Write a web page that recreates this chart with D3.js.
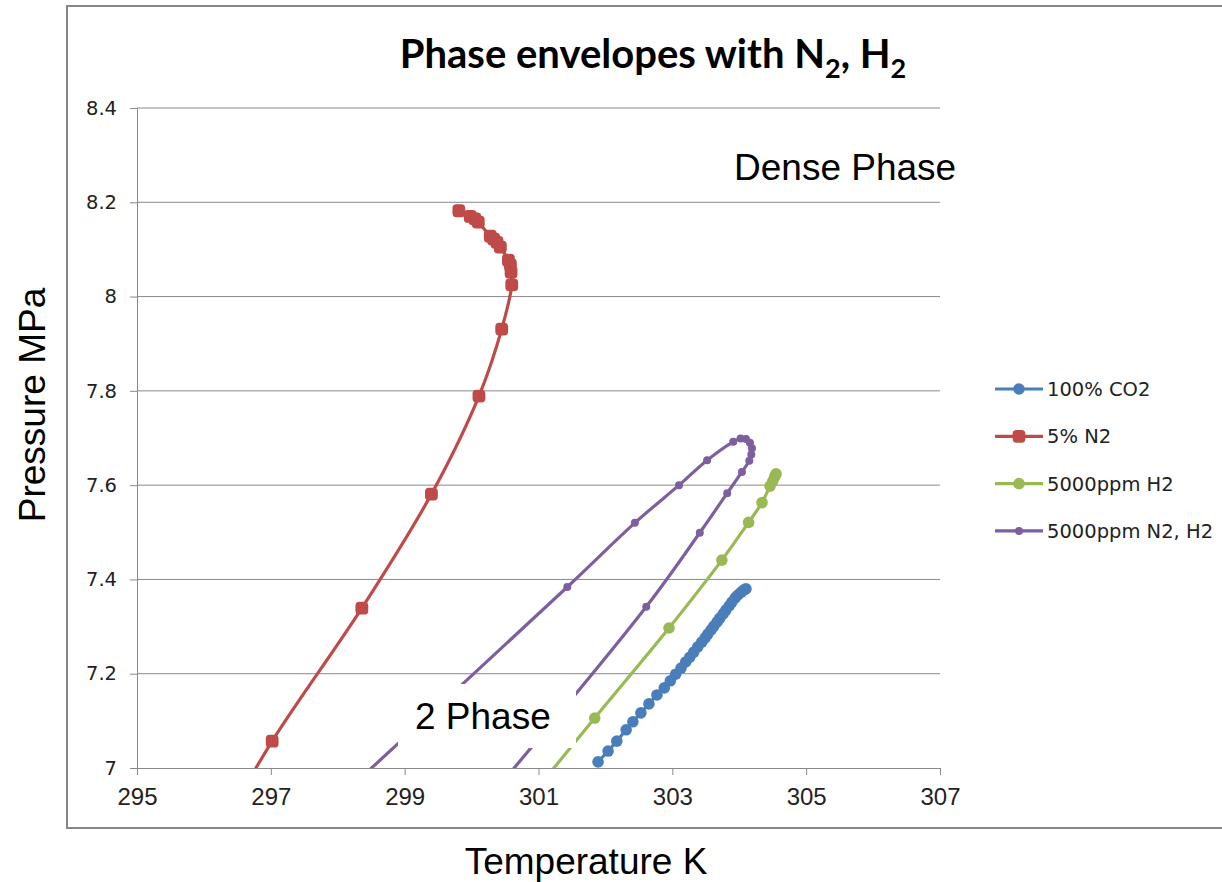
<!DOCTYPE html>
<html>
<head>
<meta charset="utf-8">
<script src="https://cdn.jsdelivr.net/npm/d3@7"></script>
<style>
  html, body { margin: 0; padding: 0; background: #fff; }
  svg { display: block; }
</style>
</head>
<body>
<svg id="chart" width="1222" height="882"></svg>
<script>
// Phase envelope data: [temperature K, pressure MPa]
const seriesNames = ["100% CO2", "5% N2", "5000ppm H2", "5000ppm N2, H2"];

const co2Pure = [
  [301.89, 7.013], [302.04, 7.036], [302.17, 7.057], [302.31, 7.081], [302.41, 7.098],
  [302.53, 7.117], [302.65, 7.136], [302.77, 7.155], [302.88, 7.170], [302.97, 7.185],
  [303.05, 7.199], [303.13, 7.212], [303.20, 7.225], [303.26, 7.235], [303.32, 7.246],
  [303.38, 7.257], [303.44, 7.267], [303.49, 7.276], [303.53, 7.284], [303.58, 7.293],
  [303.62, 7.301], [303.67, 7.310], [303.71, 7.318], [303.76, 7.327], [303.80, 7.335],
  [303.85, 7.344], [303.89, 7.352], [303.94, 7.361], [303.98, 7.367], [304.03, 7.373],
  [304.07, 7.378], [304.10, 7.380]
];

const n2FivePct = [
  [299.81, 8.182], [299.98, 8.170], [300.05, 8.165], [300.10, 8.158], [300.28, 8.128],
  [300.33, 8.122], [300.38, 8.115], [300.43, 8.105], [300.55, 8.077], [300.58, 8.067],
  [300.59, 8.052], [300.60, 8.025], [300.45, 7.931], [300.11, 7.789], [299.40, 7.581],
  [298.36, 7.339], [297.02, 7.057], [296.30, 6.880]
];

const h2Ppm = [
  [301.00, 6.960], [301.84, 7.106], [302.95, 7.297], [303.74, 7.441], [304.14, 7.521],
  [304.34, 7.563], [304.46, 7.598], [304.50, 7.608], [304.53, 7.618], [304.55, 7.624]
];

const n2h2Ppm = [
  [298.20, 6.960], [301.43, 7.384], [302.44, 7.520], [303.10, 7.600], [303.52, 7.653],
  [303.91, 7.692], [304.02, 7.699], [304.10, 7.698], [304.16, 7.690], [304.19, 7.678],
  [304.18, 7.665], [304.15, 7.652], [304.04, 7.628], [303.82, 7.583], [303.41, 7.499],
  [302.61, 7.342], [300.40, 6.960]
];

const xTicks = [295, 297, 299, 301, 303, 305, 307];
const yTicks = [7, 7.2, 7.4, 7.6, 7.8, 8, 8.2, 8.4];

const colors = ["#4a7ebb", "#be4b48", "#98b954", "#7d5fa0"];

const svg = d3.select("#chart");

// Outer chart frame
svg.append("rect")
  .attr("x", 67).attr("y", 6)
  .attr("width", 1180).attr("height", 822)
  .attr("fill", "#fff")
  .attr("stroke", "#868686").attr("stroke-width", 2);

const plot = { left: 137, right: 940, top: 108, bottom: 768 };

const x = d3.scaleLinear().domain([295, 307]).range([plot.left, plot.right]);
const y = d3.scaleLinear().domain([7, 8.4]).range([plot.bottom, plot.top]);

// Horizontal gridlines
svg.append("g")
  .selectAll("line")
  .data(yTicks.filter(v => v > 7))
  .join("line")
  .attr("x1", plot.left).attr("x2", plot.right)
  .attr("y1", d => y(d)).attr("y2", d => y(d))
  .attr("stroke", "#898989").attr("stroke-width", 1);

// Axes
const yAxis = svg.append("g")
  .attr("transform", `translate(${plot.left},0)`)
  .call(d3.axisLeft(y).tickValues(yTicks).tickSize(7).tickPadding(13).tickFormat(d3.format("~g")));
const xAxis = svg.append("g")
  .attr("transform", `translate(0,${plot.bottom})`)
  .call(d3.axisBottom(x).tickValues(xTicks).tickSize(7).tickPadding(13).tickFormat(d3.format("d")));

[yAxis, xAxis].forEach(g => {
  g.select(".domain").attr("stroke", "#898989").attr("stroke-width", 1);
  g.selectAll(".tick line").attr("stroke", "#898989");
  g.selectAll(".tick text").attr("fill", "#222");
});
yAxis.selectAll(".tick text")
  .attr("font-family", "'DejaVu Sans', Verdana, sans-serif")
  .attr("font-size", 19.5);
xAxis.selectAll(".tick text")
  .attr("font-family", "'Liberation Sans Narrow', 'Liberation Sans', sans-serif")
  .attr("font-size", 24);

// Plot clipping
svg.append("defs").append("clipPath").attr("id", "plotClip")
  .append("rect")
  .attr("x", plot.left).attr("y", plot.top)
  .attr("width", plot.right - plot.left).attr("height", plot.bottom - plot.top);

const line = d3.line()
  .x(d => x(d[0])).y(d => y(d[1]))
  .curve(d3.curveCatmullRom.alpha(0.5));

const inRange = d => d[1] >= 7 && d[1] <= 8.4 && d[0] >= 295 && d[0] <= 307;

const series = [co2Pure, n2FivePct, h2Ppm, n2h2Ppm];
const markerShape = ["circle", "square", "circle", "smallCircle"];

function drawMarker(g, shape, cx, cy, color) {
  if (shape === "square") {
    g.append("rect")
      .attr("x", cx - 5.5).attr("y", cy - 5.5)
      .attr("width", 11).attr("height", 11).attr("rx", 3)
      .attr("fill", color).attr("stroke", color).attr("stroke-width", 1.8);
  } else if (shape === "circle") {
    g.append("circle").attr("cx", cx).attr("cy", cy).attr("r", 5.8).attr("fill", color);
  } else {
    g.append("circle").attr("cx", cx).attr("cy", cy).attr("r", 4).attr("fill", color);
  }
}

const seriesLayer = svg.append("g");
[1, 3, 2, 0].forEach(i => {
  const g = seriesLayer.append("g");
  g.append("path")
    .datum(series[i])
    .attr("clip-path", "url(#plotClip)")
    .attr("d", line)
    .attr("fill", "none")
    .attr("stroke", colors[i])
    .attr("stroke-width", 3.2);
  series[i].filter(inRange).forEach(d => drawMarker(g, markerShape[i], x(d[0]), y(d[1]), colors[i]));
});

// Region annotations
svg.append("rect")
  .attr("x", 398).attr("y", 684)
  .attr("width", 178).attr("height", 64)
  .attr("fill", "#fff");
svg.append("text")
  .attr("x", 415).attr("y", 729)
  .attr("font-family", "'Liberation Sans', Arial, sans-serif")
  .attr("font-size", 37).attr("fill", "#000")
  .text("2 Phase");
svg.append("text")
  .attr("x", 734).attr("y", 180)
  .attr("font-family", "'Liberation Sans', Arial, sans-serif")
  .attr("font-size", 37).attr("fill", "#000")
  .text("Dense Phase");

// Title
const title = svg.append("text")
  .attr("x", 653).attr("y", 68)
  .attr("text-anchor", "middle")
  .attr("font-family", "Lato, 'Open Sans', sans-serif")
  .attr("font-weight", "bold")
  .attr("font-size", 40).attr("fill", "#000");
title.append("tspan").text("Phase envelopes with N");
title.append("tspan").attr("font-size", 27).attr("dy", 10).text("2");
title.append("tspan").attr("dy", -10).text(", H");
title.append("tspan").attr("font-size", 27).attr("dy", 10).text("2");

// Axis titles
svg.append("text")
  .attr("transform", "translate(45,405) rotate(-90)")
  .attr("text-anchor", "middle")
  .attr("font-family", "'Liberation Sans', Arial, sans-serif")
  .attr("font-size", 37).attr("fill", "#000")
  .text("Pressure MPa");
svg.append("text")
  .attr("x", 586).attr("y", 874)
  .attr("text-anchor", "middle")
  .attr("font-family", "'Liberation Sans', Arial, sans-serif")
  .attr("font-size", 37).attr("fill", "#000")
  .text("Temperature K");

// Legend
const legend = svg.append("g").attr("transform", "translate(995,389)");
seriesNames.forEach((name, i) => {
  const row = legend.append("g").attr("transform", `translate(0,${i * 47.3})`);
  row.append("line")
    .attr("x1", 0).attr("x2", 48).attr("y1", 0).attr("y2", 0)
    .attr("stroke", colors[i]).attr("stroke-width", 3.2);
  drawMarker(row, markerShape[i], 24, 0, colors[i]);
  row.append("text")
    .attr("x", 52).attr("y", 7)
    .attr("font-family", "'DejaVu Sans', Verdana, sans-serif")
    .attr("font-size", 19.5).attr("fill", "#222")
    .text(name);
});
</script>
</body>
</html>
